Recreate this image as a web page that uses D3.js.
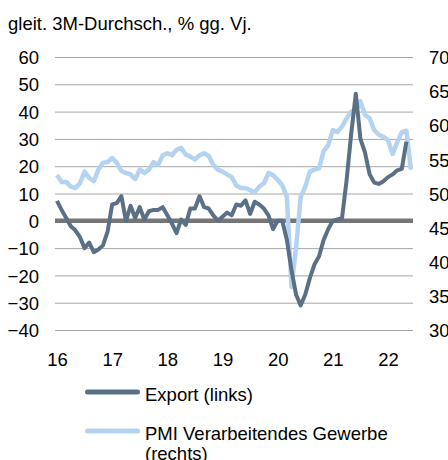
<!DOCTYPE html>
<html>
<head>
<meta charset="utf-8">
<script src="https://cdn.jsdelivr.net/npm/d3@7"></script>
<style>
  body { margin: 0; background: #fff; }
  svg { display: block; font-family: "Liberation Sans", Arial, sans-serif; }
  .axis .domain { display: none; }
  .axis text { font-size: 18.5px; fill: #000; }
</style>
</head>
<body>
<svg id="chart" width="448" height="460"></svg>
<script>
// monthly values, Jan 2016 onwards
let yearLabels = ["16", "17", "18", "19", "20", "21", "22"]
let leftTicks = [-40, -30, -20, -10, 0, 10, 20, 30, 40, 50, 60]
let rightTicks = [30, 35, 40, 45, 50, 55, 60, 65, 70]

let exportValues = [
  7.3, 4, 1, -2, -3.5, -6, -10, -8, -11.5, -10.5, -9, -4,
  6, 6.5, 9, 0, 5.5, 1, 5, 0.5, 3.5, 4, 4, 5,
  2, -1, -4.5, 0.5, -1.5, 4.5, 4.5, 9, 5, 4.5, 2, 0,
  1.5, 3, 2, 6, 5.5, 7.5, 2.5, 7, 6, 4.5, 2, -3,
  0, 0, -7, -18, -27, -31, -27, -21, -16, -13, -7, -3,
  0, 0.5, 1, 15, 32, 46.5, 30, 25, 17, 14, 13.5, 14.5,
  16, 17, 18.5, 19, 29
]

let pmiValues = [
  52.7, 51.7, 51.7, 51, 50.8, 51.5, 53.2, 52.3, 51.8, 53.5, 54.5, 54.6,
  55.2, 54.5, 53.3, 53, 52.8, 52.1, 53.5, 53, 53.5, 54.6, 54.2, 55.6,
  55.9, 55.6, 56.4, 56.7, 55.7, 55.4, 55, 55.6, 55.9, 55.5, 54.2, 53.5,
  53.2, 52.8, 52.4, 51.2, 50.8, 50.8, 50.5, 50.2, 51, 51.5, 53, 52.7,
  52, 51.2, 49.5, 36.3, 42, 49.5, 51, 53.2, 53.5, 53.7, 56.2, 57.1,
  59.3, 59, 59.8, 61, 62, 62.2, 63.5, 61.5, 61, 59.3, 58.6, 58.3,
  57.8, 55.8, 57.5, 59, 59.2, 53.5
]

let svg = d3.select("#chart")

let plotLeft = 55, plotRight = 413

let x = d3.scaleLinear()
  .domain([0, 77])
  .range([57, 411])

let yLeft = d3.scaleLinear()
  .domain([-40, 60])
  .range([330, 57])

let yRight = d3.scaleLinear()
  .domain([30, 70])
  .range([330, 57])

// title
svg.append("text")
  .attr("x", 8)
  .attr("y", 30)
  .style("font-size", "18.5px")
  .text("gleit. 3M-Durchsch., % gg. Vj.")

// left axis with gridlines
let leftAxis = svg.append("g")
  .attr("class", "axis")
  .attr("transform", `translate(${plotLeft},0)`)
  .call(d3.axisLeft(yLeft)
    .tickValues(leftTicks)
    .tickSize(-(plotRight - plotLeft))
    .tickPadding(16))

leftAxis.selectAll(".tick line")
  .style("stroke", "#a6a6a6")
  .style("stroke-width", "1px")

leftAxis.selectAll(".tick text").attr("dy", "0.36em")

// right axis labels
let rightAxis = svg.append("g")
  .attr("class", "axis")
  .attr("transform", `translate(${plotRight},0)`)
  .call(d3.axisRight(yRight)
    .tickValues(rightTicks)
    .tickSize(0)
    .tickPadding(16))

rightAxis.selectAll(".tick text").attr("dy", "0.36em")

// x axis labels
let xAxis = svg.append("g")
  .attr("class", "axis")
  .attr("transform", "translate(0,350)")
  .call(d3.axisBottom(x)
    .tickValues(yearLabels.map((d, i) => i * 12))
    .tickFormat((d, i) => yearLabels[i])
    .tickSize(0)
    .tickPadding(3))

// zero line
svg.append("line")
  .attr("x1", plotLeft)
  .attr("x2", plotRight)
  .attr("y1", yLeft(0))
  .attr("y2", yLeft(0))
  .style("stroke", "#767676")
  .style("stroke-width", "4.5px")

let pmiLine = d3.line()
  .x((d, i) => x(i))
  .y(d => yRight(d))

let exportLine = d3.line()
  .x((d, i) => x(i))
  .y(d => yLeft(d))

svg.append("path")
  .attr("d", pmiLine(pmiValues))
  .style("fill", "none")
  .style("stroke", "#b4d3f0")
  .style("stroke-width", "4.5px")
  .style("stroke-linejoin", "round")

svg.append("path")
  .attr("d", exportLine(exportValues))
  .style("fill", "none")
  .style("stroke", "#5a7087")
  .style("stroke-width", "4px")
  .style("stroke-linejoin", "round")

// legend
let legendItems = [
  { label: ["Export (links)"], color: "#5a7087", y: 392 },
  { label: ["PMI Verarbeitendes Gewerbe", "(rechts)"], color: "#b4d3f0", y: 431 }
]

legendItems.forEach(item => {
  svg.append("line")
    .attr("x1", 87.5)
    .attr("x2", 137.5)
    .attr("y1", item.y)
    .attr("y2", item.y)
    .style("stroke", item.color)
    .style("stroke-width", "5px")
    .style("stroke-linecap", "round")

  let t = svg.append("text")
    .attr("x", 145)
    .attr("y", item.y + 8.5)
    .style("font-size", "18.5px")

  item.label.forEach((line, i) => {
    t.append("tspan")
      .attr("x", 145)
      .attr("dy", i == 0 ? 0 : 20)
      .text(line)
  })
})
</script>
</body>
</html>
